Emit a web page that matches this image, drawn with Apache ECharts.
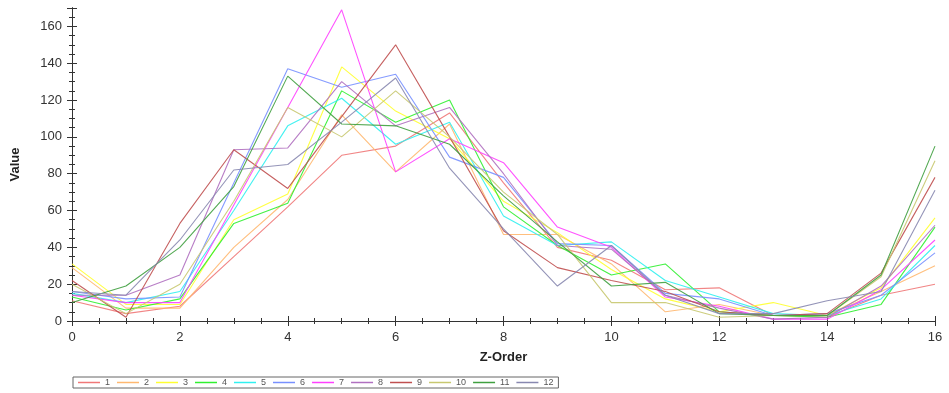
<!DOCTYPE html>
<html><head><meta charset="utf-8">
<script src="https://cdn.jsdelivr.net/npm/echarts@6/dist/echarts.min.js"></script>
<style>html,body{margin:0;padding:0;background:#fff}#c{width:949px;height:393px}</style>
</head><body><div id="c"></div>
<script>
const zOrder = [0,1,2,3,4,5,6,7,8,9,10,11,12,13,14,15,16];
const seriesNames = ['1','2','3','4','5','6','7','8','9','10','11','12'];
const s1  = [11, 4, 8, 35, 62, 90, 95, 113, 75, 40, 33, 17, 18, 3, 2, 14, 20];
const s2  = [29, 7, 7, 40, 66, 112, 81, 107, 47, 47, 31, 5, 9, 3, 3, 16, 30];
const s3  = [31, 9, 9, 55, 69, 138, 114, 99, 65, 48, 28, 12, 5, 10, 3, 18, 56];
const s4  = [13, 6, 12, 53, 64, 125, 108, 120, 62, 41, 25, 31, 5, 3, 2, 9, 51];
const s5  = [15, 10, 16, 60, 106, 121, 96, 108, 57, 41, 43, 22, 13, 4, 3, 12, 41];
const s6  = [16, 12, 13, 75, 137, 127, 134, 89, 78, 42, 41, 15, 12, 3, 4, 14, 37];
const s7  = [14, 10, 10, 63, 116, 169, 81, 99, 86, 51, 40, 13, 8, 1, 1, 17, 44];
const s8  = [14, 14, 25, 93, 94, 130, 106, 116, 80, 41, 39, 14, 7, 1, 2, 19, 52];
const s9  = [22, 2, 53, 93, 72, 111, 150, 100, 49, 29, 22, 16, 5, 3, 4, 26, 78];
const s10 = [20, 4, 20, 65, 116, 100, 125, 100, 70, 47, 10, 10, 2, 3, 3, 24, 87];
const s11 = [10, 19, 40, 73, 133, 107, 106, 96, 68, 43, 19, 21, 4, 3, 3, 25, 95];
const s12 = [16, 14, 44, 82, 85, 108, 132, 83, 50, 19, 41, 14, 4, 4, 11, 16, 71];
const allValues = [s1,s2,s3,s4,s5,s6,s7,s8,s9,s10,s11,s12];
const colors = ['#f07878','#ffb870','#ffff30','#30f030','#30f0f0','#7890ff','#ff40ff','#b070c0','#c05050','#c8c870','#40a040','#8888b0'];

const gridRect = {left:72, right:14, top:8, bottom:72};
const axLine = {show:true, lineStyle:{color:'#333', width:1}};
function xAx(extra){ return Object.assign({type:'value', min:0, max:16, interval:2, splitLine:{show:false},
  axisLine:axLine, minorTick:{show:true, splitNumber:4, length:3, lineStyle:{color:'#333'}},
  axisTick:{length:5, lineStyle:{color:'#333'}}, axisLabel:{show:false}}, extra); }
function yAx(extra){ return Object.assign({type:'value', min:0, max:170, interval:20, splitLine:{show:false},
  axisLine:axLine, minorTick:{show:true, splitNumber:4, length:3, lineStyle:{color:'#333'}},
  axisTick:{length:5, lineStyle:{color:'#333'}}, axisLabel:{show:false}}, extra); }

const chart = echarts.init(document.getElementById('c'), null, {renderer:'canvas'});
chart.setOption({
  backgroundColor:'#fff',
  animation:false,
  grid:[Object.assign({}, gridRect), Object.assign({}, gridRect)],
  xAxis:[
    xAx({gridIndex:0, position:'bottom', axisLabel:{show:true, color:'#333', fontSize:13, fontFamily:'Liberation Sans, Arial', margin:10,
      formatter:v => (v % 2 === 0 ? String(v) : '')},
      name:'Z-Order', nameLocation:'middle', nameGap:30, nameTextStyle:{fontWeight:'bold', fontSize:13, color:'#222', fontFamily:'Liberation Sans, Arial'}}),
    xAx({gridIndex:1, position:'bottom', axisTick:{inside:true, length:5, lineStyle:{color:'#333'}}}),
    xAx({gridIndex:1, position:'top', axisTick:{inside:true, length:5, lineStyle:{color:'#333'}}})
  ],
  yAxis:[
    yAx({gridIndex:0, position:'left', axisLabel:{show:true, color:'#333', fontSize:13, fontFamily:'Liberation Sans, Arial', margin:10,
      formatter:v => (v % 20 === 0 && v <= 160 ? String(v) : '')},
      name:'Value', nameLocation:'middle', nameGap:50, nameRotate:90, nameTextStyle:{fontWeight:'bold', fontSize:13, color:'#222', fontFamily:'Liberation Sans, Arial'}}),
    yAx({gridIndex:1, position:'left', axisTick:{inside:true, length:5, lineStyle:{color:'#333'}}}),
    yAx({gridIndex:1, position:'right', axisTick:{inside:true, length:5, lineStyle:{color:'#333'}}})
  ],
  legend:{
    left:73, top:377, orient:'horizontal', icon:'rect', itemWidth:22, itemHeight:1.5, itemGap:7,
    borderColor:'#666', borderWidth:1, padding:[1,5],
    textStyle:{fontSize:9, color:'#555', fontFamily:'Liberation Sans, Arial'},
    data: seriesNames
  },
  series: allValues.map((vals, i) => ({
    name: seriesNames[i], type:'line', xAxisIndex:0, yAxisIndex:0,
    data: zOrder.map((x, j) => [x, vals[j]]),
    symbol:'none', showSymbol:false, smooth:false,
    lineStyle:{color:colors[i], width:1.1, opacity:0.9},
    itemStyle:{color:colors[i]}
  }))
});
</script></body></html>
